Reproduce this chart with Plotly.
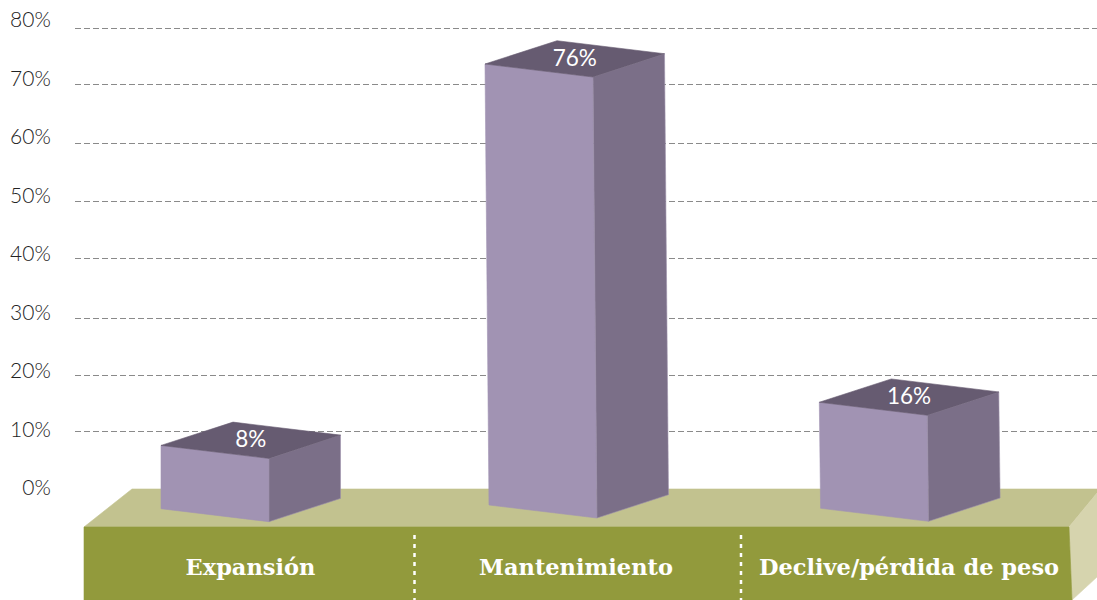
import plotly.graph_objects as go

# ---- data ----
categories = ["Expansión", "Mantenimiento", "Declive/pérdida de peso"]
values = [8, 76, 16]
value_labels = ["8%", "76%", "16%"]
tick_values = [0, 10, 20, 30, 40, 50, 60, 70, 80]
tick_labels = ["0%", "10%", "20%", "30%", "40%", "50%", "60%", "70%", "80%"]
# dashed guide levels as they sit in the picture
grid_levels = [10, 19.6, 29.6, 39.9, 49.8, 59.9, 70.15, 80]

# ---- pseudo-3D layout (pixels on the x scale, percent on the y scale) ----
W, H = 1097, 600
PX = 5.757          # pixels per percent
Y0 = 488.6          # pixel of 0 %
y_of = lambda p: (Y0 - p) / PX
bar_left = [161, 485, 819.3]
bar_lean = [0, 4, 1.3]
top_adjust = [-0.5, -2.25, -1.0]
base_drop = [20.1, 16.4, 19.7]
BAR_W, DEPTH_X, DEPTH_Y, SKEW = 108, 71.5, 23.3, 13
cat_centers = [250.5, 576, 909]
separators = [414.5, 741]

FRONT, SIDE, TOP = "#a193b3", "#7b6f88", "#665b71"
FLOOR_TOP, FLOOR_FRONT, FLOOR_SIDE = "#c2c28f", "#929a3c", "#d6d4ae"


def poly(xs, ys, color, edge=None):
    return go.Scatter(
        x=xs + xs[:1], y=ys + ys[:1], mode="lines", fill="toself", fillcolor=color,
        line=dict(color=edge or color, width=0.6), hoverinfo="skip", showlegend=False,
    )


fig = go.Figure()

# floor
fig.add_trace(poly([84, 132, 1097, 1097, 1069], [y_of(527), y_of(489), y_of(489), y_of(493), y_of(527)], FLOOR_TOP))
fig.add_trace(poly([1069, 1097, 1097, 1072], [y_of(527), y_of(493), y_of(577), y_of(600)], FLOOR_SIDE))
fig.add_trace(poly([84, 1069, 1072, 84], [y_of(527), y_of(527), y_of(600), y_of(600)], FLOOR_FRONT))

# bars
label_x, label_y = [], []
for v, left, lean, adj, drop in zip(values, bar_left, bar_lean, top_adjust, base_drop):
    t = v + adj
    s, d, dy = SKEW / PX, DEPTH_X, DEPTH_Y / PX
    b = -drop / PX
    fl, fr = left, left + BAR_W
    fig.add_trace(poly(
        [fl, fr, fr + lean, fl + lean],
        [t, t - s, b - s, b], FRONT))
    fig.add_trace(poly(
        [fr, fr + d, fr + d + lean, fr + lean],
        [t - s, t - s + dy, b - s + dy, b - s], SIDE, "#9d92ab"))
    fig.add_trace(poly(
        [fl, fl + d + 0.5, fr + d, fr],
        [t, t + dy, t - s + dy, t - s], TOP))
    label_x.append(left + (BAR_W + d) / 2)
    label_y.append(t - s / 2 + dy / 2 - 1.5 / PX)

fig.add_trace(go.Scatter(
    x=label_x, y=label_y, mode="text", text=value_labels, textposition="middle center",
    textfont=dict(family="Lato", size=22.5, color="#ffffff", weight=400),
    hoverinfo="skip", showlegend=False,
))

# category labels
fig.add_trace(go.Scatter(
    x=cat_centers, y=[y_of(569.5)] * 3, mode="text", text=categories, textposition="middle center",
    textfont=dict(family="DejaVu Serif", size=22.5, color="#ffffff", weight="bold"),
    hoverinfo="skip", showlegend=False,
))

# white dotted separators
for sx in separators:
    fig.add_trace(go.Scatter(
        x=[sx, sx], y=[y_of(535), y_of(600)], mode="lines",
        line=dict(color="#ffffff", width=2.5, dash="4px,5px"),
        hoverinfo="skip", showlegend=False,
    ))

# overlay axis carrying the printed percent labels
fig.add_trace(go.Scatter(x=[None], y=[None], yaxis="y2", showlegend=False, hoverinfo="skip"))

fig.update_layout(
    width=W, height=H, autosize=False,
    margin=dict(l=75, r=0, t=0, b=0),
    paper_bgcolor="#ffffff", plot_bgcolor="#ffffff",
    showlegend=False,
    xaxis=dict(range=[75, W], visible=False, fixedrange=True),
    yaxis=dict(
        range=[y_of(H), y_of(0)], tickmode="array", tickvals=grid_levels, showticklabels=False,
        ticks="", showgrid=True, gridcolor="#8a8a8a", gridwidth=1, griddash="6px,3px",
        zeroline=False, showline=False, fixedrange=True,
    ),
    yaxis2=dict(
        overlaying="y", side="left", anchor="x",
        range=[(488 - H) / 5.85, 488 / 5.85], tickmode="array",
        tickvals=tick_values, ticktext=tick_labels,
        ticks="outside", ticklen=19, tickcolor="rgba(0,0,0,0)",
        tickfont=dict(family="Lato", size=21, color="#222222", weight=300),
        showgrid=False, zeroline=False, showline=False, fixedrange=True,
    ),
)

fig.write_html("out.html", config={"displayModeBar": False},
               post_script="document.body.style.margin='0';")
